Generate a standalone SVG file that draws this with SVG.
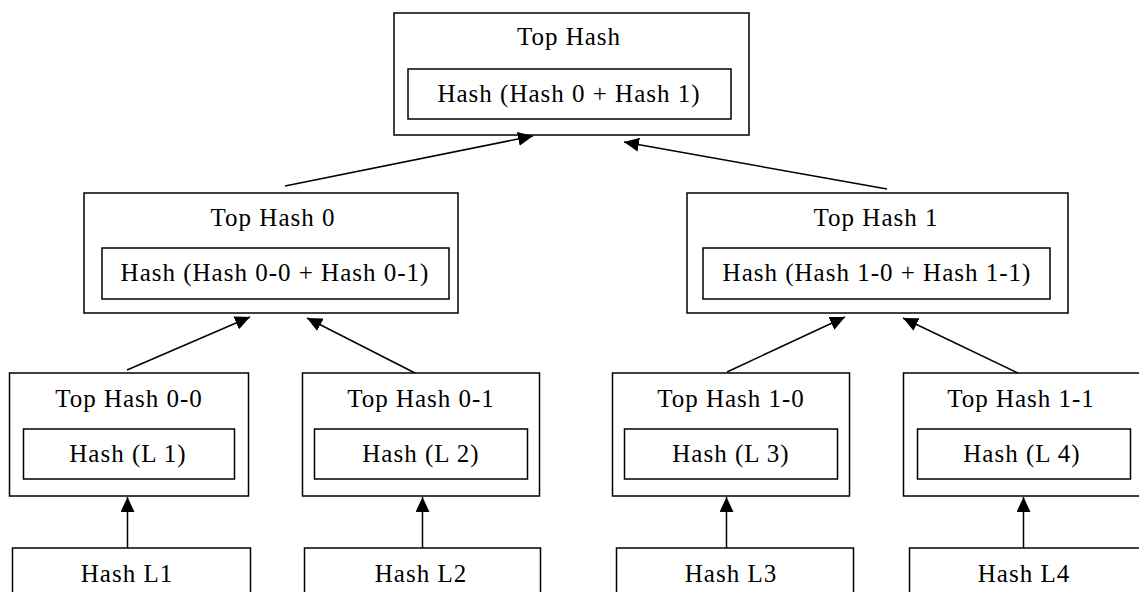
<svg xmlns="http://www.w3.org/2000/svg" width="1139" height="592" viewBox="0 0 1139 592">
<style>
  .box { fill: #ffffff; stroke: #000000; stroke-width: 1.5; }
  .inner { fill: #ffffff; stroke: #000000; stroke-width: 1.5; }
  text { font-family: "Liberation Serif", "Times New Roman", serif; font-size: 25px; letter-spacing: 1px; fill: #000000; text-anchor: middle; }
  .edge { stroke: #000000; stroke-width: 1.5; fill: none; marker-end: url(#arrow); }
</style>
<defs>
  <marker id="arrow" markerUnits="userSpaceOnUse" markerWidth="15" markerHeight="14" refX="15" refY="7" orient="auto">
    <path d="M0,0 L15,7 L0,14 Z" fill="#000000"/>
  </marker>
</defs>
<rect x="0" y="0" width="1139" height="592" fill="#ffffff"/>

<g id="top">
  <rect class="box" x="394" y="13" width="355" height="122"/>
  <text x="569" y="45">Top Hash</text>
  <rect class="inner" x="408" y="69" width="323" height="50"/>
  <text x="569" y="102">Hash (Hash 0 + Hash 1)</text>
</g>

<g id="top-hash-0">
  <rect class="box" x="84" y="193" width="374" height="120"/>
  <text x="273" y="226">Top Hash 0</text>
  <rect class="inner" x="102" y="248" width="347" height="51"/>
  <text x="275" y="281">Hash (Hash 0-0 + Hash 0-1)</text>
</g>

<g id="top-hash-1">
  <rect class="box" x="687" y="193" width="381" height="120"/>
  <text x="876" y="226">Top Hash 1</text>
  <rect class="inner" x="703" y="248" width="347" height="51"/>
  <text x="877" y="281">Hash (Hash 1-0 + Hash 1-1)</text>
</g>

<g id="top-hash-0-0">
  <rect class="box" x="9.5" y="373" width="239" height="123"/>
  <text x="129" y="407">Top Hash 0-0</text>
  <rect class="inner" x="23.5" y="429" width="211" height="50"/>
  <text x="128" y="462">Hash (L 1)</text>
</g>

<g id="top-hash-0-1">
  <rect class="box" x="302.5" y="373" width="237" height="123"/>
  <text x="421" y="407">Top Hash 0-1</text>
  <rect class="inner" x="314.5" y="429" width="213" height="50"/>
  <text x="421" y="462">Hash (L 2)</text>
</g>

<g id="top-hash-1-0">
  <rect class="box" x="612.5" y="373" width="237" height="123"/>
  <text x="731" y="407">Top Hash 1-0</text>
  <rect class="inner" x="624.5" y="429" width="213" height="50"/>
  <text x="731" y="462">Hash (L 3)</text>
</g>

<g id="top-hash-1-1">
  <rect class="box" x="903.5" y="373" width="240" height="123"/>
  <text x="1021" y="407">Top Hash 1-1</text>
  <rect class="inner" x="917.5" y="429" width="213" height="50"/>
  <text x="1022" y="462">Hash (L 4)</text>
</g>

<g id="leaf-l1">
  <rect class="box" x="12.5" y="548" width="238" height="60"/>
  <text x="127" y="582">Hash L1</text>
</g>
<g id="leaf-l2">
  <rect class="box" x="304.5" y="548" width="236" height="60"/>
  <text x="421" y="582">Hash L2</text>
</g>
<g id="leaf-l3">
  <rect class="box" x="616.5" y="548" width="237" height="60"/>
  <text x="731" y="582">Hash L3</text>
</g>
<g id="leaf-l4">
  <rect class="box" x="909.5" y="548" width="240" height="60"/>
  <text x="1024" y="582">Hash L4</text>
</g>

<g id="connectors">
  <line class="edge" x1="285" y1="186" x2="533" y2="136"/>
  <line class="edge" x1="887" y1="189" x2="624" y2="142"/>
  <line class="edge" x1="127" y1="370" x2="250" y2="317"/>
  <line class="edge" x1="415" y1="373" x2="307" y2="318"/>
  <line class="edge" x1="727" y1="372" x2="845" y2="317"/>
  <line class="edge" x1="1018" y1="373" x2="903" y2="318"/>
  <line class="edge" x1="127.5" y1="548" x2="127.5" y2="497"/>
  <line class="edge" x1="422.5" y1="548" x2="422.5" y2="497"/>
  <line class="edge" x1="726.5" y1="548" x2="726.5" y2="497"/>
  <line class="edge" x1="1023.5" y1="548" x2="1023.5" y2="497"/>
</g>
</svg>
